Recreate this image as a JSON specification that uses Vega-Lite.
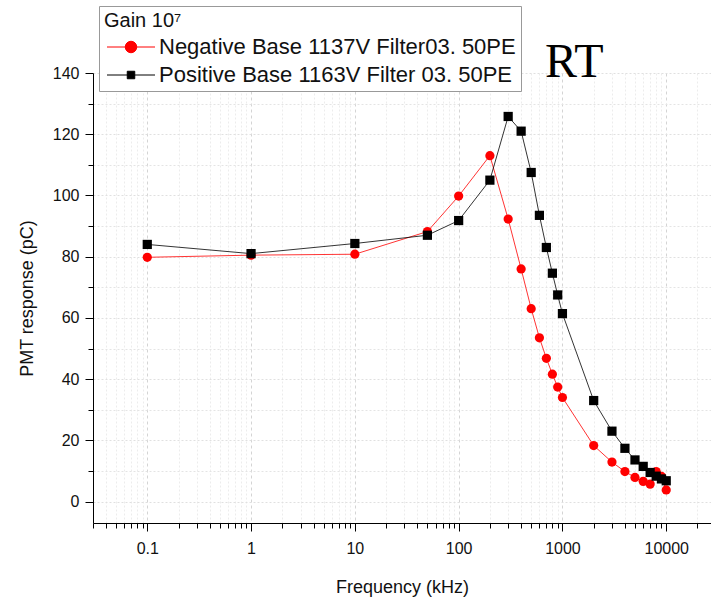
{
  "$schema": "https://vega.github.io/schema/vega-lite/v6.json",
  "width": 618,
  "height": 450,
  "autosize": "none",
  "padding": {"left": 93, "top": 73, "right": 0, "bottom": 78},
  "background": "white",
  "title": {"text": "RT", "anchor": "start", "frame": "group", "font": "Liberation Serif", "fontSize": 48, "fontWeight": "normal", "color": "black", "baseline": "alphabetic", "offset": 0, "dx": 452, "dy": 119},
  "config": {
    "view": {"stroke": null},
    "axis": {"domainColor": "black", "tickColor": "black", "labelFont": "Liberation Sans", "labelFontSize": 16, "labelColor": "#111", "titleFont": "Liberation Sans", "titleFontSize": 18, "titleFontWeight": "normal", "titleColor": "#111"}
  },
  "data": {"values": [
    {"f": 0.1, "v": 79.8, "s": "Negative Base 1137V Filter03. 50PE"},
    {"f": 1, "v": 80.5, "s": "Negative Base 1137V Filter03. 50PE"},
    {"f": 10, "v": 80.8, "s": "Negative Base 1137V Filter03. 50PE"},
    {"f": 50, "v": 88.2, "s": "Negative Base 1137V Filter03. 50PE"},
    {"f": 100, "v": 99.8, "s": "Negative Base 1137V Filter03. 50PE"},
    {"f": 200, "v": 113, "s": "Negative Base 1137V Filter03. 50PE"},
    {"f": 300, "v": 92.3, "s": "Negative Base 1137V Filter03. 50PE"},
    {"f": 400, "v": 76, "s": "Negative Base 1137V Filter03. 50PE"},
    {"f": 500, "v": 63, "s": "Negative Base 1137V Filter03. 50PE"},
    {"f": 600, "v": 53.5, "s": "Negative Base 1137V Filter03. 50PE"},
    {"f": 700, "v": 46.8, "s": "Negative Base 1137V Filter03. 50PE"},
    {"f": 800, "v": 41.6, "s": "Negative Base 1137V Filter03. 50PE"},
    {"f": 900, "v": 37.4, "s": "Negative Base 1137V Filter03. 50PE"},
    {"f": 1000, "v": 34, "s": "Negative Base 1137V Filter03. 50PE"},
    {"f": 2000, "v": 18.3, "s": "Negative Base 1137V Filter03. 50PE"},
    {"f": 3000, "v": 12.9, "s": "Negative Base 1137V Filter03. 50PE"},
    {"f": 4000, "v": 9.8, "s": "Negative Base 1137V Filter03. 50PE"},
    {"f": 5000, "v": 7.9, "s": "Negative Base 1137V Filter03. 50PE"},
    {"f": 6000, "v": 6.6, "s": "Negative Base 1137V Filter03. 50PE"},
    {"f": 7000, "v": 5.7, "s": "Negative Base 1137V Filter03. 50PE"},
    {"f": 8000, "v": 9.8, "s": "Negative Base 1137V Filter03. 50PE"},
    {"f": 9000, "v": 8.2, "s": "Negative Base 1137V Filter03. 50PE"},
    {"f": 10000, "v": 3.8, "s": "Negative Base 1137V Filter03. 50PE"},
    {"f": 0.1, "v": 84, "s": "Positive Base 1163V Filter 03. 50PE"},
    {"f": 1, "v": 81, "s": "Positive Base 1163V Filter 03. 50PE"},
    {"f": 10, "v": 84.3, "s": "Positive Base 1163V Filter 03. 50PE"},
    {"f": 50, "v": 87, "s": "Positive Base 1163V Filter 03. 50PE"},
    {"f": 100, "v": 91.8, "s": "Positive Base 1163V Filter 03. 50PE"},
    {"f": 200, "v": 105, "s": "Positive Base 1163V Filter 03. 50PE"},
    {"f": 300, "v": 125.8, "s": "Positive Base 1163V Filter 03. 50PE"},
    {"f": 400, "v": 121, "s": "Positive Base 1163V Filter 03. 50PE"},
    {"f": 500, "v": 107.5, "s": "Positive Base 1163V Filter 03. 50PE"},
    {"f": 600, "v": 93.5, "s": "Positive Base 1163V Filter 03. 50PE"},
    {"f": 700, "v": 83, "s": "Positive Base 1163V Filter 03. 50PE"},
    {"f": 800, "v": 74.6, "s": "Positive Base 1163V Filter 03. 50PE"},
    {"f": 900, "v": 67.5, "s": "Positive Base 1163V Filter 03. 50PE"},
    {"f": 1000, "v": 61.4, "s": "Positive Base 1163V Filter 03. 50PE"},
    {"f": 2000, "v": 33, "s": "Positive Base 1163V Filter 03. 50PE"},
    {"f": 3000, "v": 23, "s": "Positive Base 1163V Filter 03. 50PE"},
    {"f": 4000, "v": 17.4, "s": "Positive Base 1163V Filter 03. 50PE"},
    {"f": 5000, "v": 13.6, "s": "Positive Base 1163V Filter 03. 50PE"},
    {"f": 6000, "v": 11.5, "s": "Positive Base 1163V Filter 03. 50PE"},
    {"f": 7000, "v": 9.5, "s": "Positive Base 1163V Filter 03. 50PE"},
    {"f": 8000, "v": 8.3, "s": "Positive Base 1163V Filter 03. 50PE"},
    {"f": 9000, "v": 7.4, "s": "Positive Base 1163V Filter 03. 50PE"},
    {"f": 10000, "v": 6.8, "s": "Positive Base 1163V Filter 03. 50PE"}
  ]},
  "resolve": {"axis": {"x": "independent", "y": "independent"}},
  "layer": [
    {
      "mark": {"type": "line", "strokeWidth": 0.8},
      "encoding": {
        "x": {"field": "f", "type": "quantitative", "scale": {"type": "log", "domain": [0.03, 27000], "nice": false},
          "axis": {"orient": "bottom", "values": [0.03,0.04,0.05,0.06,0.07,0.08,0.09,0.2,0.3,0.4,0.5,0.6,0.7,0.8,0.9,2,3,4,5,6,7,8,9,20,30,40,50,60,70,80,90,200,300,400,500,600,700,800,900,2000,3000,4000,5000,6000,7000,8000,9000,20000], "labels": false, "title": null, "tickSize": 5, "domain": false, "grid": true, "gridColor": "#ececec", "gridDash": [2, 2]}},
        "y": {"field": "v", "type": "quantitative", "scale": {"domain": [-7, 140], "nice": false, "zero": false},
          "axis": {"orient": "left", "values": [10,30,50,70,90,110,130], "labels": false, "title": null, "tickSize": 5, "domain": false, "grid": true, "gridColor": "#e4e4e4", "gridDash": [2, 2]}},
        "color": {"field": "s", "type": "nominal", "scale": {"domain": ["Negative Base 1137V Filter03. 50PE", "Positive Base 1163V Filter 03. 50PE"], "range": ["#ff0000", "#000000"]}}
      }
    },
    {
      "transform": [{"filter": "datum.s === 'Negative Base 1137V Filter03. 50PE'"}],
      "mark": {"type": "point", "shape": "circle", "filled": true, "opacity": 1, "size": 85},
      "encoding": {
        "x": {"field": "f", "type": "quantitative", "scale": {"type": "log", "domain": [0.03, 27000], "nice": false},
          "axis": {"orient": "bottom", "values": [0.1, 1, 10, 100, 1000, 10000], "format": "~f", "title": "Frequency (kHz)", "tickSize": 8, "labelPadding": 9, "titlePadding": 22, "grid": true, "gridColor": "#d4d4d4", "gridDash": [3, 3]}},
        "y": {"field": "v", "type": "quantitative", "scale": {"domain": [-7, 140], "nice": false, "zero": false},
          "axis": {"orient": "left", "values": [0, 20, 40, 60, 80, 100, 120, 140], "title": "PMT response (pC)", "tickSize": 8, "labelPadding": 6, "titlePadding": 16, "grid": true, "gridColor": "#e0e0e0", "gridDash": [2, 2]}},
        "color": {"field": "s", "type": "nominal"}
      }
    },
    {
      "transform": [{"filter": "datum.s === 'Positive Base 1163V Filter 03. 50PE'"}],
      "mark": {"type": "point", "shape": "square", "filled": true, "opacity": 1, "size": 85},
      "encoding": {
        "x": {"field": "f", "type": "quantitative", "scale": {"type": "log", "domain": [0.03, 27000], "nice": false}, "axis": null},
        "y": {"field": "v", "type": "quantitative", "scale": {"domain": [-7, 140], "nice": false, "zero": false}, "axis": null},
        "color": {"field": "s", "type": "nominal"}
      }
    },
    {
      "transform": [{"filter": "false"}],
      "mark": {"type": "point", "filled": true, "opacity": 1},
      "encoding": {
        "color": {"field": "s", "type": "nominal",
          "legend": {
            "title": "Gain 10⁷", "orient": "none", "legendX": 6, "legendY": -67,
            "titleFont": "Liberation Sans", "titleFontSize": 20, "titleFontWeight": "normal", "titleColor": "#111", "titlePadding": 5,
            "labelFont": "Liberation Sans", "labelFontSize": 22, "labelColor": "#111", "labelLimit": 1000,
            "strokeColor": "#999999", "fillColor": "white", "padding": 5,
            "symbolSize": 100, "symbolOffset": 16, "labelOffset": 17, "rowPadding": 6, "symbolOpacity": 1, "symbolStrokeWidth": 1
          }},
        "shape": {"field": "s", "type": "nominal", "scale": {"domain": ["Negative Base 1137V Filter03. 50PE", "Positive Base 1163V Filter 03. 50PE"], "range": ["M-4.8,0H4.8M-1.15,0A1.15,1.15 0 1,1 1.15,0A1.15,1.15 0 1,1 -1.15,0Z", "M-4.8,0H4.8M-0.75,-0.75H0.75V0.75H-0.75Z"]}},
        "stroke": {"field": "s", "type": "nominal", "scale": {"domain": ["Negative Base 1137V Filter03. 50PE", "Positive Base 1163V Filter 03. 50PE"], "range": ["#ff0000", "#000000"]}}
      }
    }
  ]
}
